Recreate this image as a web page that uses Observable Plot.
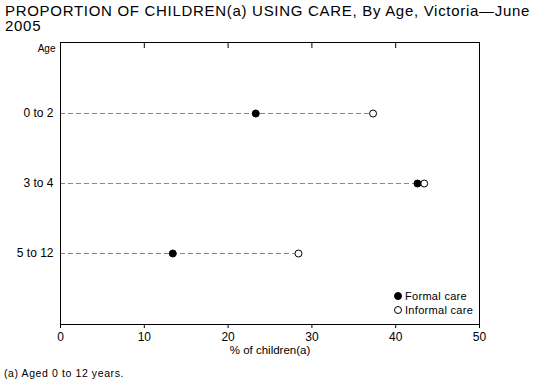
<!DOCTYPE html>
<html><head><meta charset="utf-8">
<script src="https://cdn.jsdelivr.net/npm/d3@7"></script>
<script src="https://cdn.jsdelivr.net/npm/@observablehq/plot@0.6"></script>
<style>
body{margin:0;background:#fff;font-family:"Liberation Sans",Arial,sans-serif;}
#wrap{position:relative;width:553px;height:389px;}
#title{position:absolute;left:5px;top:3px;width:530px;font-size:15px;line-height:15px;color:#000;letter-spacing:0.7px;}
#chart{position:absolute;left:0;top:0;}
#foot{position:absolute;left:4px;top:367px;font-size:10.5px;letter-spacing:0.6px;color:#000;}
#legend{position:absolute;left:394px;top:289px;font-size:11px;line-height:14px;letter-spacing:0.3px;}
#legend span.s{display:inline-block;width:8px;height:8px;border-radius:50%;border:1px solid #000;box-sizing:border-box;margin-right:3px;vertical-align:-0px;}
</style></head>
<body><div id="wrap">
<div id="title">PROPORTION OF CHILDREN(a) USING CARE, By Age, Victoria—June 2005</div>
<div id="chart"></div>
<div id="legend"><div><span class="s" style="background:#000"></span>Formal care</div><div><span class="s" style="background:#fff"></span>Informal care</div></div>
<div id="foot">(a) Aged 0 to 12 years.</div>
</div>
<script>
const ages = ["0 to 2", "3 to 4", "5 to 12"];
const formal = [23.3, 42.6, 13.4];
const informal = [37.3, 43.4, 28.4];
const xTicks = [0, 10, 20, 30, 40, 50];

const rows = ages.map((a, i) => ({age: a, formal: formal[i], informal: informal[i], max: Math.max(formal[i], informal[i])}));

const chart = Plot.plot({
  width: 553,
  height: 389,
  marginLeft: 60,
  marginRight: 74,
  marginTop: 42,
  marginBottom: 65,
  style: {fontFamily: "Liberation Sans, Arial, sans-serif", fontSize: "12px", color: "#000", background: "transparent"},
  x: {domain: [0, 50], ticks: xTicks, label: null},
  y: {type: "point", domain: ages, padding: 1, label: null},
  marks: [
    Plot.ruleY(rows, {x1: 0, x2: "max", y: "age", stroke: "#888", strokeDasharray: "5,3", strokeWidth: 1}),
    Plot.frame({stroke: "#000", strokeWidth: 1}),
    Plot.axisX({anchor: "bottom", ticks: xTicks, tickSize: 4, tickPadding: 4, fontSize: 12, label: null}),
    Plot.axisX({anchor: "top", ticks: xTicks, tickSize: -5, tickFormat: () => "", label: null}),
    Plot.axisY({anchor: "left", tickSize: 0, tickPadding: 7, fontSize: 12, label: null}),
    Plot.text(["% of children(a)"], {frameAnchor: "bottom", dy: 29, fontSize: 11.5}),
    Plot.text(["Age"], {frameAnchor: "top-left", textAnchor: "end", dx: -5, dy: 2, fontSize: 10}),
    Plot.dot(rows, {x: "informal", y: "age", r: 3.5, fill: "#fff", stroke: "#000", strokeWidth: 1}),
    Plot.dot(rows, {x: "formal", y: "age", r: 3.5, fill: "#000", stroke: "#000", strokeWidth: 1})
  ]
});
document.getElementById("chart").appendChild(chart);
</script>
</body></html>
